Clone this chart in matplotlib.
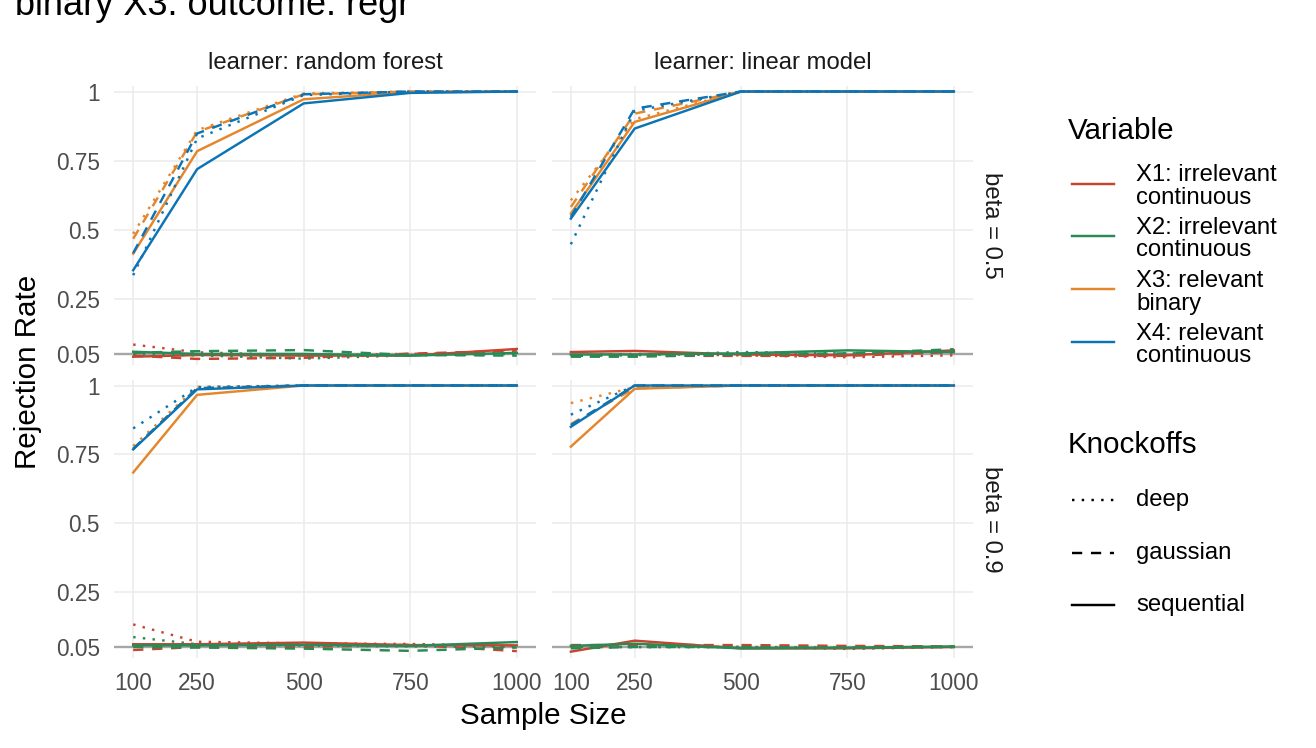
import matplotlib
matplotlib.use("Agg")
import matplotlib.pyplot as plt
from matplotlib.lines import Line2D

# ── data ──────────────────────────────────────────────────────────────
SAMPLE_SIZES = [100, 250, 500, 750, 1000]
KNOCKOFFS = ["deep", "gaussian", "sequential"]
VARIABLES = ["X1: irrelevant\ncontinuous", "X2: irrelevant\ncontinuous",
             "X3: relevant\nbinary", "X4: relevant\ncontinuous"]
LEARNERS = ["learner: random forest", "learner: linear model"]
BETAS = ["beta = 0.5", "beta = 0.9"]

# each: [deep, gaussian, sequential]
RF_05_X1 = [[0.084, 0.056, 0.045, 0.050, 0.055], [0.044, 0.032, 0.036, 0.051, 0.062], [0.040, 0.046, 0.044, 0.044, 0.068]]
RF_05_X2 = [[0.050, 0.045, 0.033, 0.045, 0.050], [0.054, 0.060, 0.064, 0.046, 0.044], [0.058, 0.050, 0.050, 0.044, 0.054]]
RF_05_X3 = [[0.485, 0.860, 0.993, 1.0, 1.0], [0.467, 0.854, 0.990, 1.0, 1.0], [0.413, 0.784, 0.972, 0.998, 1.0]]
RF_05_X4 = [[0.335, 0.830, 0.987, 1.0, 1.0], [0.415, 0.848, 0.990, 1.0, 1.0], [0.353, 0.719, 0.957, 0.995, 1.0]]

LM_05_X1 = [[0.045, 0.050, 0.045, 0.038, 0.045], [0.043, 0.043, 0.043, 0.043, 0.057], [0.057, 0.061, 0.048, 0.045, 0.063]]
LM_05_X2 = [[0.043, 0.045, 0.057, 0.052, 0.055], [0.040, 0.040, 0.048, 0.052, 0.067], [0.048, 0.048, 0.052, 0.063, 0.057]]
LM_05_X3 = [[0.606, 0.900, 1.0, 1.0, 1.0], [0.582, 0.920, 1.0, 1.0, 1.0], [0.558, 0.890, 1.0, 1.0, 1.0]]
LM_05_X4 = [[0.447, 0.930, 1.0, 1.0, 1.0], [0.546, 0.938, 1.0, 1.0, 1.0], [0.540, 0.866, 1.0, 1.0, 1.0]]

RF_09_X1 = [[0.132, 0.069, 0.063, 0.061, 0.054], [0.039, 0.050, 0.050, 0.058, 0.035], [0.060, 0.060, 0.066, 0.057, 0.056]]
RF_09_X2 = [[0.086, 0.060, 0.055, 0.052, 0.050], [0.050, 0.048, 0.044, 0.036, 0.048], [0.056, 0.056, 0.058, 0.054, 0.068]]
RF_09_X3 = [[0.780, 0.995, 1.0, 1.0, 1.0], [0.770, 0.990, 1.0, 1.0, 1.0], [0.684, 0.966, 1.0, 1.0, 1.0]]
RF_09_X4 = [[0.844, 0.994, 1.0, 1.0, 1.0], [0.770, 0.990, 1.0, 1.0, 1.0], [0.768, 0.986, 1.0, 1.0, 1.0]]

LM_09_X1 = [[0.050, 0.050, 0.050, 0.043, 0.050], [0.057, 0.057, 0.057, 0.054, 0.052], [0.033, 0.073, 0.045, 0.045, 0.050]]
LM_09_X2 = [[0.050, 0.050, 0.050, 0.048, 0.052], [0.045, 0.050, 0.050, 0.047, 0.050], [0.054, 0.062, 0.045, 0.047, 0.052]]
LM_09_X3 = [[0.936, 0.994, 1.0, 1.0, 1.0], [0.860, 0.990, 1.0, 1.0, 1.0], [0.778, 0.988, 1.0, 1.0, 1.0]]
LM_09_X4 = [[0.894, 1.0, 1.0, 1.0, 1.0], [0.856, 1.0, 1.0, 1.0, 1.0], [0.850, 1.0, 1.0, 1.0, 1.0]]

PANELS = [
    [[RF_05_X1, RF_05_X2, RF_05_X3, RF_05_X4], [LM_05_X1, LM_05_X2, LM_05_X3, LM_05_X4]],
    [[RF_09_X1, RF_09_X2, RF_09_X3, RF_09_X4], [LM_09_X1, LM_09_X2, LM_09_X3, LM_09_X4]],
]

Y_TICKS = [0.05, 0.25, 0.5, 0.75, 1.0]
Y_TICKLABELS = ["0.05", "0.25", "0.5", "0.75", "1"]

# ── style ─────────────────────────────────────────────────────────────
COLORS = ["#C84330", "#2A8A55", "#E5862B", "#0B74B5"]
DASHES = [(0, (1, 3.0)), (0, (4.2, 3.6)), "solid"]
LW = 1.75
W, H = 1316, 748
SMALL = 17.2
TICK = 16.3
BIG = 21.3

plt.rcParams["font.family"] = ["Liberation Sans", "DejaVu Sans"]

fig = plt.figure(figsize=(W / 100, H / 100), dpi=100)


def fx(px):
    return px / W


def fy(py):
    return 1 - py / H


col_x = [(114, 536), (551.7, 973)]
row_y = [(86, 365), (380, 658)]

for r in range(2):
    for c in range(2):
        x0, x1 = col_x[c]
        y0, y1 = row_y[r]
        ax = fig.add_axes([fx(x0), fy(y1), fx(x1 - x0), (y1 - y0) / H])
        ax.set_xlim(55, 1045)
        ax.set_ylim(0.01, 1.02)
        for s in ax.spines.values():
            s.set_visible(False)
        ax.grid(True, color="#EBEBEB", linewidth=1.1)
        ax.set_axisbelow(True)
        ax.tick_params(length=0, labelsize=TICK, labelcolor="#4D4D4D", pad=10)
        ax.set_yticks(Y_TICKS)
        ax.set_xticks(SAMPLE_SIZES)
        if c == 0:
            ax.set_yticklabels(Y_TICKLABELS)
        else:
            ax.set_yticklabels([])
        if r == 1:
            ax.set_xticklabels([str(v) for v in SAMPLE_SIZES])
        else:
            ax.set_xticklabels([])
        ax.axhline(0.05, color="#A6A6A6", linewidth=1.7, zorder=1)

        for vi, series in enumerate(PANELS[r][c]):
            for ki, vals in enumerate(series):
                ax.plot(SAMPLE_SIZES, vals, color=COLORS[vi], linestyle=DASHES[ki],
                        linewidth=LW, dash_capstyle="butt", zorder=2 + vi)

        if r == 0:
            ax.annotate(LEARNERS[c], xy=(0.5, 1), xycoords="axes fraction",
                        xytext=(0, 16.5), textcoords="offset points",
                        ha="center", va="center", fontsize=SMALL, color="#1A1A1A")
        if c == 1:
            ax.annotate(BETAS[r], xy=(1, 0.5), xycoords="axes fraction",
                        xytext=(13, 0), textcoords="offset points",
                        ha="center", va="center", rotation=-90,
                        fontsize=SMALL, color="#1A1A1A")

# titles
fig.text(fx(15), fy(15), "binary X3. outcome: regr", fontsize=26,
         ha="left", va="baseline")
fig.text(fx(28), fy(372), "Rejection Rate", fontsize=BIG, rotation=90,
         ha="center", va="center")
fig.text(fx(543.5), fy(716), "Sample Size", fontsize=BIG,
         ha="center", va="center")

# legend: Variable
fig.text(fx(1068), fy(139), "Variable", fontsize=BIG, ha="left", va="baseline")
var_keys_y = [183.5, 236, 289.5, 342]
for vi, ky in enumerate(var_keys_y):
    fig.add_artist(Line2D([fx(1072), fx(1114)], [fy(ky), fy(ky)],
                          color=COLORS[vi], linewidth=LW))
    fig.text(fx(1136), fy(ky + 3), VARIABLES[vi], fontsize=SMALL, ha="left",
             va="center", linespacing=1.05)

# legend: Knockoffs
fig.text(fx(1068), fy(453), "Knockoffs", fontsize=BIG, ha="left", va="baseline")
ko_keys_y = [500, 553, 605]
for ki, ky in enumerate(ko_keys_y):
    fig.add_artist(Line2D([fx(1072), fx(1114)], [fy(ky), fy(ky)],
                          color="black", linewidth=LW, linestyle=DASHES[ki],
                          dash_capstyle="butt"))
    fig.text(fx(1136), fy(ky), KNOCKOFFS[ki], fontsize=SMALL, ha="left", va="center")

fig.savefig("out.png", dpi=100)
